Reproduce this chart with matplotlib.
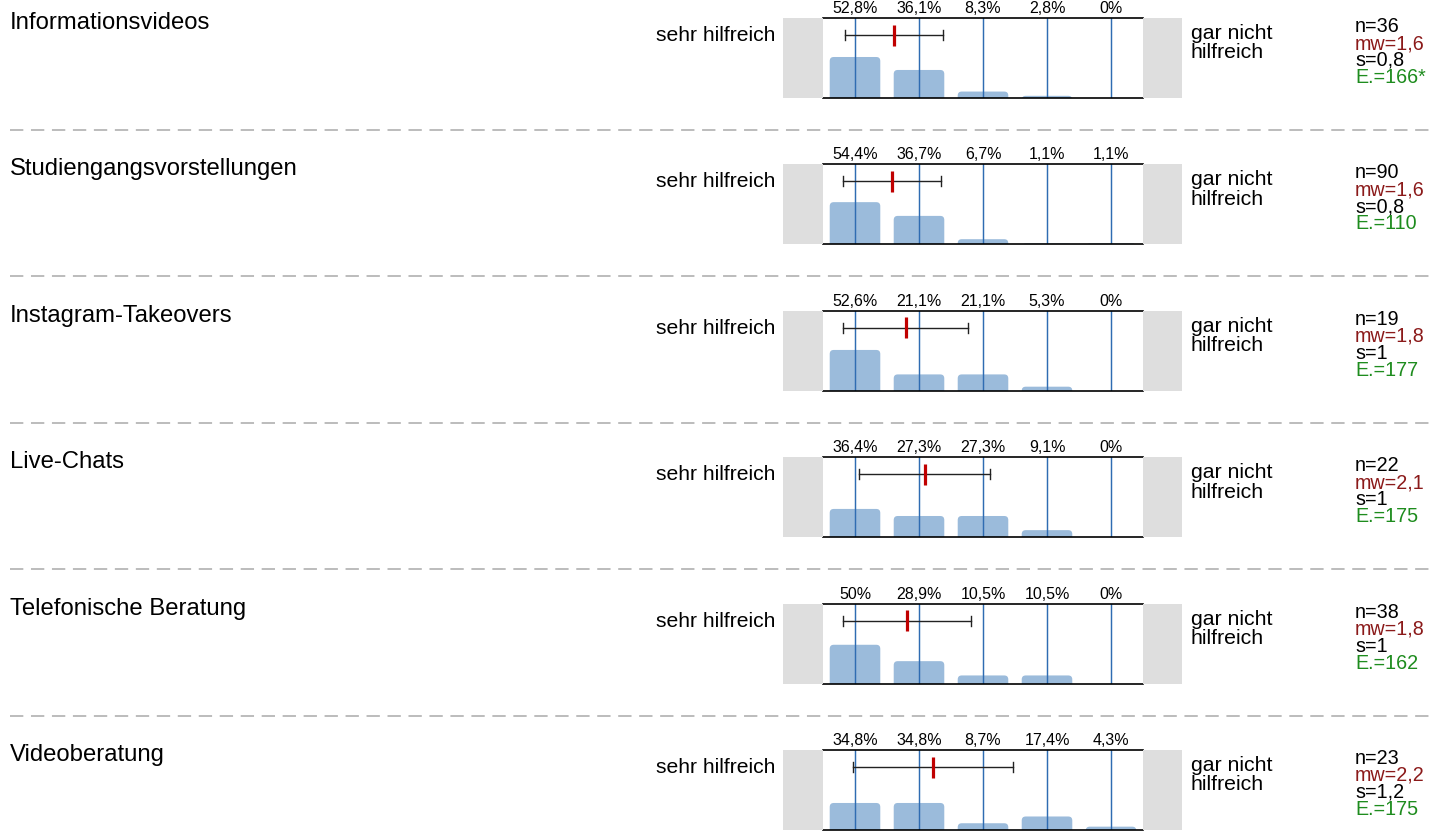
import matplotlib
matplotlib.use("Agg")
import matplotlib.pyplot as plt
import matplotlib.transforms as mtransforms
from matplotlib.patches import FancyBboxPatch, Rectangle
from matplotlib.lines import Line2D

plt.rcParams['font.family'] = ['Liberation Sans', 'DejaVu Sans']
plt.rcParams['lines.scale_dashes'] = False

# ---- data ----
titles = ["Informationsvideos", "Studiengangsvorstellungen", "Instagram-Takeovers",
          "Live-Chats", "Telefonische Beratung", "Videoberatung"]
pct_1 = [52.8, 36.1, 8.3, 2.8, 0.0]
pct_2 = [54.4, 36.7, 6.7, 1.1, 1.1]
pct_3 = [52.6, 21.1, 21.1, 5.3, 0.0]
pct_4 = [36.4, 27.3, 27.3, 9.1, 0.0]
pct_5 = [50.0, 28.9, 10.5, 10.5, 0.0]
pct_6 = [34.8, 34.8, 8.7, 17.4, 4.3]
pct_labels_1 = ["52,8%", "36,1%", "8,3%", "2,8%", "0%"]
pct_labels_2 = ["54,4%", "36,7%", "6,7%", "1,1%", "1,1%"]
pct_labels_3 = ["52,6%", "21,1%", "21,1%", "5,3%", "0%"]
pct_labels_4 = ["36,4%", "27,3%", "27,3%", "9,1%", "0%"]
pct_labels_5 = ["50%", "28,9%", "10,5%", "10,5%", "0%"]
pct_labels_6 = ["34,8%", "34,8%", "8,7%", "17,4%", "4,3%"]
means = [1.61, 1.58, 1.79, 2.09, 1.81, 2.22]
sds = [0.77, 0.77, 0.98, 1.02, 1.00, 1.25]
n_text = ["n=36", "n=90", "n=19", "n=22", "n=38", "n=23"]
mw_text = ["mw=1,6", "mw=1,6", "mw=1,8", "mw=2,1", "mw=1,8", "mw=2,2"]
s_text = ["s=0,8", "s=0,8", "s=1", "s=1", "s=1", "s=1,2"]
e_text = ["E.=166*", "E.=110", "E.=177", "E.=175", "E.=162", "E.=175"]
left_label = "sehr hilfreich"
right_label = ["gar nicht", "hilfreich"]

pcts = [pct_1, pct_2, pct_3, pct_4, pct_5, pct_6]
pct_labels = [pct_labels_1, pct_labels_2, pct_labels_3, pct_labels_4, pct_labels_5, pct_labels_6]
cats = [1, 2, 3, 4, 5]

# ---- layout ----
W, H = 1436, 833
fig = plt.figure(figsize=(W / 100, H / 100), dpi=100)
fig.patch.set_facecolor("white")
px = mtransforms.Affine2D().scale(1 / W, -1 / H).translate(0, 1) + fig.transFigure

STEP = 146.4
BOX_TOP = 18
BOX_H = 80
AX_X0, AX_X1 = 823, 1143
YMAX = 103.0

bar_color = "#9bbbdb"
vline_color = "#2f6cb2"
grey = "#dedede"
red_dark = "#8b1a1a"
green = "#1e8c1e"

for i in range(6):
    off = STEP * i
    top = BOX_TOP + off
    bot = top + BOX_H

    # separator
    if i > 0:
        y = 130 + STEP * (i - 1)
        fig.add_artist(Line2D([10, W], [y, y], transform=px, color="#aaaaaa",
                              lw=1.1, dashes=(9.6, 5.5)))

    # title
    fig.text(10, top + 11, titles[i], transform=px, fontsize=17.2, va="baseline", ha="left")

    # grey side boxes
    fig.add_artist(Rectangle((783, top), AX_X0 - 783, BOX_H, transform=px,
                             facecolor=grey, edgecolor="none"))
    fig.add_artist(Rectangle((AX_X1, top), 1182 - AX_X1, BOX_H, transform=px,
                             facecolor=grey, edgecolor="none"))

    ax = fig.add_axes([AX_X0 / W, 1 - bot / H, (AX_X1 - AX_X0) / W, BOX_H / H])
    ax.set_xlim(0.5, 5.5)
    ax.set_ylim(0, YMAX)
    ax.set_xticks([])
    ax.set_yticks([])
    for s in ("left", "right"):
        ax.spines[s].set_visible(False)
    for s in ("top", "bottom"):
        ax.spines[s].set_linewidth(1.2)
        ax.spines[s].set_color("black")

    # bars with rounded tops
    xs_per_px = 5.0 / (AX_X1 - AX_X0)
    ys_per_px = YMAX / BOX_H
    bw = 0.79
    for c, v in zip(cats, pcts[i]):
        if v <= 0:
            continue
        p = FancyBboxPatch((c - bw / 2, -20), bw, v + 20,
                           boxstyle="round,pad=0,rounding_size=%f" % (4 * xs_per_px),
                           mutation_aspect=ys_per_px / xs_per_px,
                           facecolor=bar_color, edgecolor="none", zorder=1)
        ax.add_patch(p)

    for c in cats:
        ax.axvline(c, color=vline_color, lw=1.05, zorder=2)

    # percent labels
    for c, lab in zip(cats, pct_labels[i]):
        ax.text(c, YMAX + 5 * ys_per_px, lab, ha="center", va="baseline", fontsize=11.5,
                clip_on=False)

    # error bar (mean +- sd)
    ey = YMAX - 17 * ys_per_px
    m, sd = means[i], sds[i]
    ax.plot([m - sd, m + sd], [ey, ey], color="#222222", lw=1.0, zorder=3)
    for xx in (m - sd, m + sd):
        ax.plot([xx, xx], [ey - 5 * ys_per_px, ey + 5 * ys_per_px], color="#222222", lw=1.0, zorder=3)
    ax.plot([m, m], [ey - 10.5 * ys_per_px, ey + 10.5 * ys_per_px], color="#c00000", lw=2.3,
            zorder=4, solid_capstyle="butt")

    # side labels
    fig.text(775, top + 23, left_label, transform=px, fontsize=15.2, ha="right", va="baseline")
    fig.text(1191, top + 21, right_label[0], transform=px, fontsize=15.3, ha="left", va="baseline")
    fig.text(1191, top + 40.5, right_label[1], transform=px, fontsize=15.3, ha="left", va="baseline")

    # stats
    sx = 1355
    fs = 14.2
    fig.text(sx, top + 14, n_text[i], transform=px, fontsize=fs, va="baseline", color="black")
    fig.text(sx, top + 31, mw_text[i], transform=px, fontsize=fs, va="baseline", color=red_dark)
    fig.text(sx, top + 48, s_text[i], transform=px, fontsize=fs, va="baseline", color="black")
    fig.text(sx, top + 65, e_text[i], transform=px, fontsize=fs, va="baseline", color=green)

fig.savefig("out.png", dpi=100, facecolor="white")
